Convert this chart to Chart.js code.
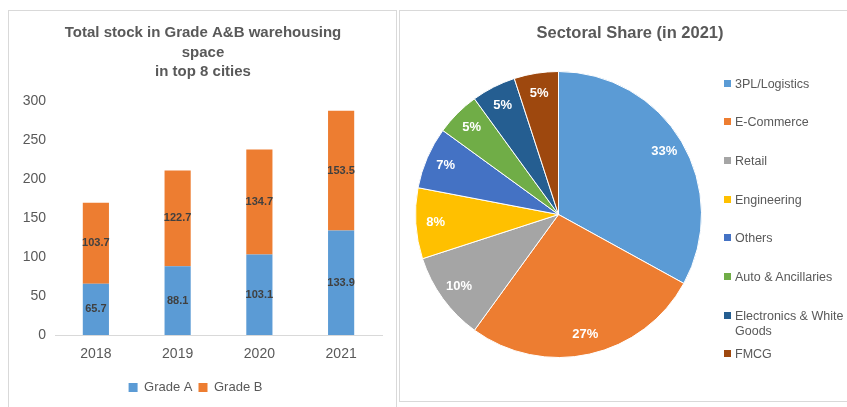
<!DOCTYPE html>
<html>
<head>
<meta charset="utf-8">
<script src="https://cdn.jsdelivr.net/npm/chart.js@4.4.1/dist/chart.umd.min.js"></script>
<style>
  body { margin: 0; background: #fff; width: 847px; height: 407px; overflow: hidden; font-family: Arial, "Liberation Sans", sans-serif; }
  #leftPanel { position: absolute; left: 8px; top: 10px; width: 389px; height: 397px; border: 1px solid #d9d9d9; border-bottom: none; box-sizing: border-box; }
  #rightPanel { position: absolute; left: 399px; top: 10px; width: 448px; height: 392px; border: 1px solid #d9d9d9; border-right: none; box-sizing: border-box; }
  #barChart { position: absolute; left: 0; top: 0; }
  #pieChart { position: absolute; left: 0; top: 0; }
  #pieLegend { position: absolute; left: 324px; top: 66px; font-size: 12.5px; color: #595959; line-height: 15px; }
  #pieLegend .item { position: absolute; white-space: nowrap; }
  #pieLegend .box { display: inline-block; width: 7px; height: 7px; margin-right: 4px; vertical-align: 1px; }
</style>
</head>
<body>
<div id="leftPanel"><canvas id="barChart" width="387" height="396"></canvas></div>
<div id="rightPanel">
  <canvas id="pieChart" width="447" height="391"></canvas>
  <div id="pieLegend"></div>
</div>
<script>
// bar chart data
const years = ['2018', '2019', '2020', '2021'];
const gradeA = [65.7, 88.1, 103.1, 133.9];
const gradeB = [103.7, 122.7, 134.7, 153.5];
const yTicks = [0, 50, 100, 150, 200, 250, 300];
const barTitle = ['Total stock in Grade A&B warehousing', 'space', 'in top 8 cities'];

// pie chart data
const sectors = ['3PL/Logistics', 'E-Commerce', 'Retail', 'Engineering', 'Others', 'Auto & Ancillaries', ['Electronics & White', 'Goods'], 'FMCG'];
const shares = [33, 27, 10, 8, 7, 5, 5, 5];
const sectorColors = ['#5B9BD5', '#ED7D31', '#A5A5A5', '#FFC000', '#4472C4', '#70AD47', '#255E91', '#9E480E'];
const pieTitle = 'Sectoral Share (in 2021)';

const textGrey = '#595959';

// draws the value in the middle of each bar segment
const barLabels = {
    id: 'barLabels',
    afterDatasetsDraw(chart) {
        const ctx = chart.ctx;
        ctx.save();
        ctx.font = 'bold 11px Arial';
        ctx.fillStyle = '#404040';
        ctx.textAlign = 'center';
        ctx.textBaseline = 'middle';
        chart.data.datasets.forEach((ds, i) => {
            chart.getDatasetMeta(i).data.forEach((bar, j) => {
                const y = (bar.y + bar.base) / 2;
                ctx.fillText(ds.data[j].toFixed(1), bar.x, y);
            });
        });
        ctx.restore();
    }
};

// percentage labels inside the slices
const pieLabels = {
    id: 'pieLabels',
    afterDatasetsDraw(chart) {
        const ctx = chart.ctx;
        ctx.save();
        ctx.font = 'bold 13px Arial';
        ctx.fillStyle = '#ffffff';
        ctx.textAlign = 'center';
        ctx.textBaseline = 'middle';
        chart.getDatasetMeta(0).data.forEach((arc, i) => {
            const mid = (arc.startAngle + arc.endAngle) / 2;
            const r = arc.outerRadius * 0.86;
            ctx.fillText(shares[i] + '%', arc.x + Math.cos(mid) * r, arc.y + Math.sin(mid) * r);
        });
        ctx.restore();
    }
};

// titles are centred on the panel rather than on the plot, so draw them here
const panelTitle = {
    id: 'panelTitle',
    afterDraw(chart, args, opts) {
        const ctx = chart.ctx;
        ctx.save();
        ctx.font = 'bold ' + opts.size + 'px Arial';
        ctx.fillStyle = textGrey;
        ctx.textAlign = 'center';
        ctx.textBaseline = 'middle';
        [].concat(opts.text).forEach((line, i) => {
            ctx.fillText(line, opts.x, opts.y + i * opts.lineHeight);
        });
        ctx.restore();
    }
};

new Chart(document.getElementById('barChart'), {
    type: 'bar',
    data: {
        labels: years,
        datasets: [
            { label: 'Grade A', data: gradeA, backgroundColor: '#5B9BD5' },
            { label: 'Grade B', data: gradeB, backgroundColor: '#ED7D31' }
        ]
    },
    options: {
        responsive: false,
        animation: false,
        layout: { padding: { left: 0, right: 14, top: 90, bottom: 3 } },
        datasets: { bar: { categoryPercentage: 1, barPercentage: 0.32 } },
        plugins: {
            panelTitle: { text: barTitle, size: 15, x: 194, y: 22, lineHeight: 19.5 },
            legend: {
                position: 'bottom',
                labels: { color: textGrey, font: { family: 'Arial', size: 13 }, boxWidth: 9, boxHeight: 9, padding: 6 }
            },
            tooltip: { enabled: false }
        },
        scales: {
            x: {
                stacked: true,
                afterFit: s => { s.height = 40; },
                grid: { display: false },
                border: { color: '#d9d9d9' },
                ticks: { color: textGrey, font: { family: 'Arial', size: 14 }, padding: 3 }
            },
            y: {
                stacked: true,
                min: 0,
                max: 300,
                afterBuildTicks: s => { s.ticks = yTicks.map(v => ({ value: v })); },
                afterFit: s => { s.width = 46; },
                grid: { display: false },
                border: { display: false },
                ticks: { color: textGrey, font: { family: 'Arial', size: 14 }, padding: 1 }
            }
        }
    },
    plugins: [barLabels, panelTitle]
});

new Chart(document.getElementById('pieChart'), {
    type: 'pie',
    data: {
        labels: sectors,
        datasets: [{ data: shares, backgroundColor: sectorColors, borderColor: '#ffffff', borderWidth: 1 }]
    },
    options: {
        responsive: false,
        animation: false,
        layout: { padding: { left: 14, right: 144, top: 60, bottom: 44 } },
        plugins: {
            panelTitle: { text: pieTitle, size: 16.5, x: 230, y: 22, lineHeight: 20 },
            legend: { display: false },
            tooltip: { enabled: false }
        }
    },
    plugins: [pieLabels, panelTitle]
});

// legend for the pie, built from the same arrays
const legendEl = document.getElementById('pieLegend');
const legendTops = [0, 38, 77, 116, 154, 193, 232, 270];
sectors.forEach((name, i) => {
    const item = document.createElement('div');
    item.className = 'item';
    item.style.top = legendTops[i] + 'px';
    const text = Array.isArray(name) ? name.join('<br><span style="padding-left:11px"></span>') : name;
    item.innerHTML = '<span class="box" style="background:' + sectorColors[i] + '"></span>' + text;
    legendEl.appendChild(item);
});
</script>
</body>
</html>
